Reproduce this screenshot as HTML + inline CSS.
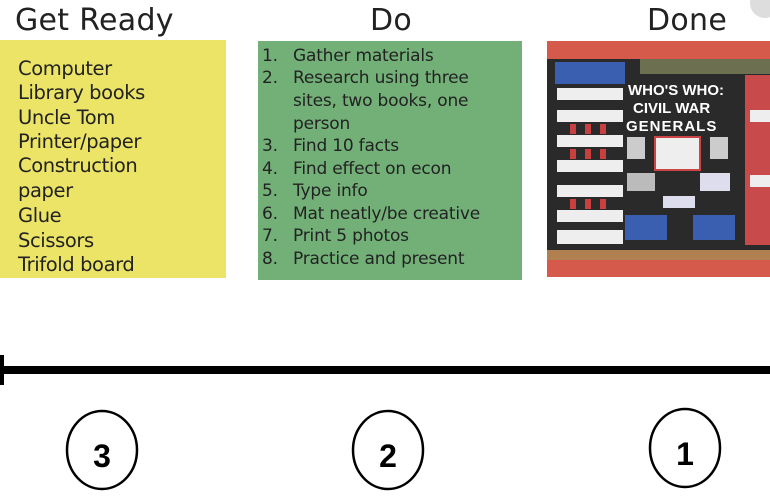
<!DOCTYPE html>
<html><head><style>
body{margin:0;width:770px;height:500px;background:#fff;position:relative;overflow:hidden;font-family:"DejaVu Sans","Liberation Sans",sans-serif;}
.t{position:absolute;top:3px;font-size:30px;color:#222;letter-spacing:0.3px}
.box{position:absolute;}
.y div{position:absolute;left:18px;font-size:19.5px;color:#222;white-space:nowrap;letter-spacing:-0.4px}
.g div{position:absolute;font-size:17px;color:#222;white-space:nowrap;letter-spacing:-0.2px}
</style></head><body>
<div class="t" style="left:15px">Get Ready</div>
<div class="t" style="left:370px">Do</div>
<div class="t" style="left:647px">Done</div>
<div style="position:absolute;right:-10px;top:-12px;width:30px;height:30px;border-radius:50%;background:#ddd"></div>

<div class="box y" style="left:0;top:40px;width:226px;height:238px;background:#ece467;overflow:hidden">
<div style="top:17px">Computer</div>
<div style="top:41px">Library books</div>
<div style="top:66px">Uncle Tom</div>
<div style="top:90px">Printer/paper</div>
<div style="top:114px">Construction</div>
<div style="top:139px">paper</div>
<div style="top:164px">Glue</div>
<div style="top:189px">Scissors</div>
<div style="top:213px">Trifold board</div>
</div>

<div class="box g" style="left:258px;top:41px;width:264px;height:239px;background:#72b078">
<div style="left:4px;top:5px">1.</div><div style="left:35px;top:5px">Gather materials</div>
<div style="left:4px;top:27px">2.</div><div style="left:35px;top:27px">Research using three</div>
<div style="left:35px;top:50px">sites, two books, one</div>
<div style="left:35px;top:73px">person</div>
<div style="left:4px;top:95px">3.</div><div style="left:35px;top:95px">Find 10 facts</div>
<div style="left:4px;top:118px">4.</div><div style="left:35px;top:118px">Find effect on econ</div>
<div style="left:4px;top:140px">5.</div><div style="left:35px;top:140px">Type info</div>
<div style="left:4px;top:163px">6.</div><div style="left:35px;top:163px">Mat neatly/be creative</div>
<div style="left:4px;top:185px">7.</div><div style="left:35px;top:185px">Print 5 photos</div>
<div style="left:4px;top:208px">8.</div><div style="left:35px;top:208px">Practice and present</div>
</div>

<svg style="position:absolute;left:0;top:0" width="770" height="500">
<rect x="547" y="41" width="223" height="236" fill="#d65a4c"/>
<rect x="547" y="59" width="223" height="201" fill="#2a2a2a"/>
<rect x="640" y="59" width="130" height="15" fill="#6c7050"/>
<rect x="547" y="250" width="223" height="10" fill="#b08050"/>
<rect x="555" y="62" width="70" height="22" fill="#3a5fb0"/>
<g fill="#eee"><rect x="557" y="88" width="66" height="12"/><rect x="557" y="110" width="66" height="12"/><rect x="557" y="135" width="66" height="12"/><rect x="557" y="160" width="66" height="12"/><rect x="557" y="185" width="66" height="12"/><rect x="557" y="210" width="66" height="12"/><rect x="557" y="230" width="66" height="14"/></g>
<g fill="#c94040"><rect x="570" y="124" width="6" height="10"/><rect x="585" y="124" width="6" height="10"/><rect x="600" y="124" width="6" height="10"/><rect x="570" y="149" width="6" height="10"/><rect x="585" y="149" width="6" height="10"/><rect x="600" y="149" width="6" height="10"/><rect x="570" y="199" width="6" height="10"/><rect x="585" y="199" width="6" height="10"/><rect x="600" y="199" width="6" height="10"/></g>
<rect x="745" y="75" width="25" height="170" fill="#c94a4a"/>
<rect x="750" y="110" width="20" height="12" fill="#eee"/><rect x="750" y="175" width="20" height="12" fill="#eee"/>
<text x="628" y="95" font-family="Liberation Sans" font-weight="bold" font-size="15" fill="#fff">WHO'S WHO:</text>
<text x="633" y="113" font-family="Liberation Sans" font-weight="bold" font-size="15" fill="#fff">CIVIL WAR</text>
<text x="626" y="131" font-family="Liberation Sans" font-weight="bold" font-size="15" fill="#fff" letter-spacing="1">GENERALS</text>
<rect x="655" y="137" width="45" height="33" fill="#eee" stroke="#c44" stroke-width="2"/>
<rect x="627" y="137" width="18" height="22" fill="#ccc"/><rect x="710" y="137" width="18" height="22" fill="#ccc"/>
<rect x="627" y="173" width="28" height="18" fill="#bbb"/><rect x="700" y="173" width="30" height="18" fill="#dde"/>
<rect x="663" y="196" width="32" height="12" fill="#dde"/>
<rect x="625" y="215" width="42" height="25" fill="#3a5fb0"/><rect x="693" y="215" width="42" height="25" fill="#3a5fb0"/>

<line x1="4" y1="370" x2="770" y2="370" stroke="#000" stroke-width="8"/>
<path d="M0 355 L0 385 L4 385 L4 355 Z" fill="#000"/>
<g fill="none" stroke="#000" stroke-width="2.5">
<ellipse cx="102" cy="450" rx="35" ry="39"/>
<ellipse cx="388" cy="450" rx="35" ry="39"/>
<ellipse cx="685" cy="448" rx="35" ry="39"/>
</g>
<g font-family="Liberation Sans" font-weight="bold" font-size="32" text-anchor="middle">
<text x="102" y="467">3</text><text x="388" y="467">2</text><text x="685" y="465">1</text>
</g>
</svg>
</body></html>
